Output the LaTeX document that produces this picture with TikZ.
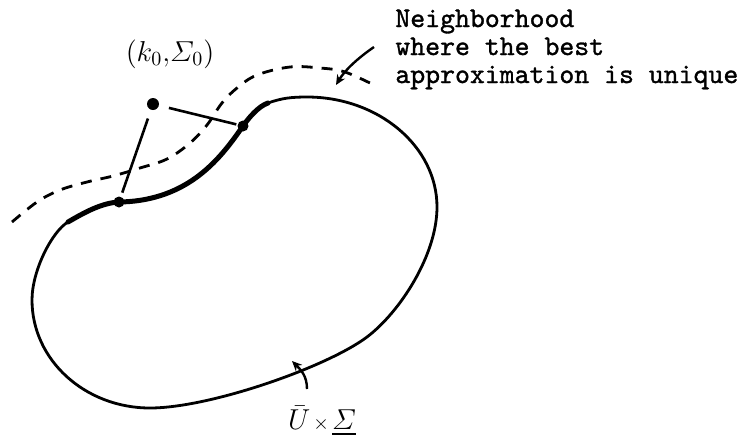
\documentclass[tikz,border=0pt]{standalone}
\usepackage{amsmath}
\usepackage{fontspec}
\newfontfamily\twfont{lmmono10-regular.otf}[FakeBold=1.2]
\usetikzlibrary{arrows.meta}
\begin{document}
\begin{tikzpicture}[x=0.5pt,y=-0.5pt,
  curve/.style={line width=1.4pt, line join=round, line cap=round},
  thickpart/.style={line width=2.5pt, line cap=round, line join=round},
  dashcurve/.style={line width=1.4pt, dash pattern=on 5.5pt off 4.5pt},
  pointer/.style={line width=1.2pt, -{Stealth[length=5pt,width=4.5pt]}},
  seg/.style={line width=1.3pt},
  dot/.style={circle, fill=black, inner sep=0pt, minimum size=#1},
  mathlab/.style={font=\fontsize{14.5}{16}\selectfont, inner sep=0pt},
  label/.style={font=\twfont\fontsize{14.2}{16}\selectfont, inner sep=0pt, anchor=base west}]
\useasboundingbox (0,0) rectangle (741,436);

% named points of the boundary
\coordinate (H) at (32,300);
\coordinate (I) at (68,222);
\coordinate (J) at (268,103);
\coordinate (D) at (307,97);
\coordinate (E) at (437,207);
\coordinate (F) at (367,337);
\coordinate (G) at (150,408);
\coordinate (B1) at (119,202);
\coordinate (B2) at (243,126);

% closed region
\draw[curve] (H) .. controls (32,270) and (52.5,231) .. (I)
  .. controls (83.5,213) and (101,203) .. (B1)
  .. controls (190,201) and (222,156) .. (B2)
  .. controls (248.7,117.8) and (258.5,106.2) .. (J)
  .. controls (282,98) and (292,97) .. (D)
  .. controls (378,97) and (437,146) .. (E)
  .. controls (437,255) and (400,312) .. (F)
  .. controls (327,367) and (210,408) .. (G)
  .. controls (85,408) and (32,360) .. (H) -- cycle;
% thick part of the boundary
\draw[thickpart] (I) .. controls (83.5,213) and (101,203) .. (B1)
  .. controls (190,201) and (222,156) .. (B2)
  .. controls (248.7,117.8) and (258.5,106.2) .. (J);

% dashed neighbourhood boundary
\draw[dashcurve] plot[smooth, tension=0.6] coordinates {
 (12,222) (37,202) (60,190) (87,182) (113,176) (140,168) (167,159)
 (190,143) (207,125) (222,103) (237,88) (257,75) (290,67) (320,68)
 (345,72) (376,86)};

% points
\node[dot=6pt] (Pd) at (153,104) {};
\node[dot=5.5pt] (B1d) at (B1) {};
\node[dot=5.5pt] (B2d) at (B2) {};
\draw[seg, shorten <=4.5pt, shorten >=2pt] (Pd) -- (B1d);
\draw[seg, shorten <=5pt, shorten >=0.5pt] (Pd) -- (B2d);

% labels
\node[mathlab] (Plab) at (170,54) {$(k_0{,}\varSigma_0)$};
\node[mathlab] (Ulab) at (322,421)
  {$\bar{U}\mskip2mu{\scriptstyle\times}\mskip2mu\underline{\varSigma}$};

\node[label] (t1) at (395,27) {Neighborhood};
\node[label] (t2) at (395,55) {where the best};
\node[label] (t3) at (395,83) {approximation is unique};

% pointers
\coordinate (a1s) at (374,47);
\coordinate (a1e) at (336,85);
\draw[pointer] (a1s) .. controls (358,58) and (345,70) .. (a1e);
\coordinate (a2s) at (307,389);
\coordinate (a2e) at (292,361);
\draw[pointer] (a2s) .. controls (307,376) and (301,370) .. (a2e);
\end{tikzpicture}
\end{document}
